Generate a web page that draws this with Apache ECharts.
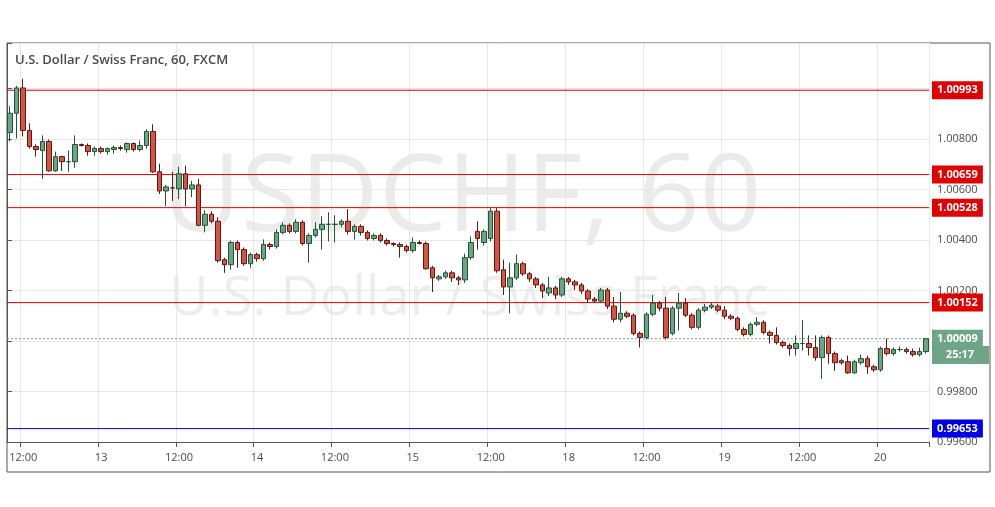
<!DOCTYPE html>
<html>
<head>
<meta charset="utf-8">
<script src="https://cdn.jsdelivr.net/npm/echarts@6/dist/echarts.min.js"></script>
<style>html,body{margin:0;padding:0;background:#fff}#main{width:995px;height:507px}</style>
</head>
<body>
<div id="main"></div>
<script>
// hourly sessions shown: [day, first hour, last hour]
var sessions = [[12, 10, 23], [13, 0, 23], [14, 0, 23], [15, 0, 23], [18, 0, 23], [19, 0, 23], [20, 0, 7]];

var opens = [1.00826,1.00902,1.01002,1.00834,1.00770,1.00754,1.00790,1.00674,1.00730,1.00710,
1.00710,1.00778,1.00774,1.00750,1.00762,1.00750,1.00758,1.00766,1.00758,1.00782,
1.00758,1.00774,1.00830,1.00670,1.00594,1.00606,1.00602,1.00662,1.00602,1.00618,
1.00458,1.00502,1.00474,1.00322,1.00302,1.00390,1.00362,1.00306,1.00342,1.00326,
1.00382,1.00374,1.00430,1.00458,1.00434,1.00470,1.00386,1.00418,1.00442,1.00462,
1.00462,1.00462,1.00474,1.00434,1.00454,1.00430,1.00406,1.00418,1.00398,1.00386,
1.00382,1.00374,1.00358,1.00390,1.00386,1.00290,1.00246,1.00254,1.00270,1.00250,
1.00242,1.00330,1.00434,1.00390,1.00406,1.00514,1.00282,1.00214,1.00250,1.00306,
1.00266,1.00246,1.00222,1.00190,1.00210,1.00182,1.00246,1.00234,1.00222,1.00198,
1.00166,1.00158,1.00202,1.00138,1.00086,1.00110,1.00102,1.00030,1.00014,1.00106,
1.00150,1.00130,1.00030,1.00130,1.00150,1.00102,1.00054,1.00122,1.00134,1.00138,
1.00122,1.00098,1.00090,1.00046,1.00026,1.00066,1.00074,1.00034,1.00022,0.99994,
0.99982,0.99970,0.99990,0.99990,0.99974,0.99934,1.00014,0.99950,0.99922,0.99918,
0.99874,0.99914,0.99930,0.99898,0.99886,0.99970,0.99950,0.99966,0.99966,0.99958,
0.99946,0.99958];
var closes = [1.00902,1.01002,1.00834,1.00770,1.00758,1.00790,1.00674,1.00730,1.00710,1.00710,
1.00778,1.00774,1.00750,1.00762,1.00750,1.00762,1.00766,1.00762,1.00782,1.00758,
1.00774,1.00830,1.00670,1.00594,1.00610,1.00606,1.00662,1.00602,1.00618,1.00458,
1.00502,1.00474,1.00318,1.00302,1.00390,1.00362,1.00306,1.00342,1.00326,1.00382,
1.00374,1.00430,1.00458,1.00434,1.00470,1.00386,1.00418,1.00442,1.00462,1.00462,
1.00462,1.00474,1.00434,1.00454,1.00430,1.00406,1.00418,1.00398,1.00386,1.00382,
1.00374,1.00358,1.00390,1.00386,1.00286,1.00250,1.00254,1.00270,1.00250,1.00242,
1.00330,1.00390,1.00406,1.00434,1.00514,1.00278,1.00214,1.00250,1.00306,1.00266,
1.00246,1.00222,1.00198,1.00210,1.00182,1.00246,1.00234,1.00222,1.00198,1.00166,
1.00158,1.00202,1.00138,1.00086,1.00110,1.00098,1.00030,1.00014,1.00106,1.00150,
1.00130,1.00014,1.00130,1.00150,1.00102,1.00054,1.00122,1.00134,1.00142,1.00122,
1.00098,1.00090,1.00046,1.00026,1.00066,1.00074,1.00034,1.00022,0.99994,0.99982,
0.99970,0.99990,0.99990,0.99974,0.99934,1.00014,0.99950,0.99914,0.99914,0.99874,
0.99918,0.99930,0.99898,0.99886,0.99970,0.99950,0.99966,0.99966,0.99958,0.99946,
0.99958,1.00009];
var lows = [1.00790,1.00802,1.00810,1.00762,1.00730,1.00642,1.00670,1.00670,1.00674,1.00670,
1.00686,1.00770,1.00734,1.00734,1.00742,1.00738,1.00742,1.00754,1.00746,1.00750,
1.00750,1.00762,1.00666,1.00582,1.00534,1.00554,1.00562,1.00534,1.00570,1.00454,
1.00430,1.00466,1.00310,1.00270,1.00282,1.00290,1.00298,1.00290,1.00314,1.00318,
1.00362,1.00366,1.00422,1.00426,1.00426,1.00378,1.00310,1.00410,1.00362,1.00394,
1.00390,1.00450,1.00422,1.00402,1.00418,1.00398,1.00398,1.00390,1.00378,1.00374,
1.00330,1.00350,1.00350,1.00382,1.00282,1.00194,1.00238,1.00246,1.00234,1.00222,
1.00230,1.00322,1.00362,1.00378,1.00394,1.00270,1.00182,1.00110,1.00242,1.00258,
1.00234,1.00210,1.00170,1.00178,1.00166,1.00174,1.00222,1.00202,1.00186,1.00150,
1.00150,1.00150,1.00126,1.00074,1.00074,1.00090,1.00022,0.99974,1.00006,1.00098,
1.00118,1.00006,1.00022,1.00042,1.00094,1.00046,1.00046,1.00114,1.00126,1.00114,
1.00086,1.00082,1.00038,1.00018,1.00018,1.00058,1.00026,0.99990,0.99986,0.99974,
0.99942,0.99942,0.99962,0.99942,0.99922,0.99850,0.99910,0.99882,0.99906,0.99870,
0.99870,0.99906,0.99870,0.99878,0.99878,0.99942,0.99942,0.99958,0.99950,0.99938,
0.99938,0.99950];
var highs = [1.00930,1.01010,1.01038,1.00862,1.00778,1.00814,1.00798,1.00750,1.00734,1.00754,
1.00814,1.00782,1.00782,1.00770,1.00770,1.00766,1.00774,1.00774,1.00786,1.00786,
1.00794,1.00838,1.00858,1.00702,1.00618,1.00670,1.00690,1.00694,1.00634,1.00642,
1.00518,1.00514,1.00490,1.00330,1.00398,1.00398,1.00370,1.00350,1.00350,1.00402,
1.00390,1.00442,1.00470,1.00466,1.00482,1.00478,1.00426,1.00470,1.00494,1.00510,
1.00498,1.00482,1.00522,1.00462,1.00462,1.00438,1.00426,1.00426,1.00406,1.00390,
1.00390,1.00382,1.00410,1.00398,1.00394,1.00298,1.00262,1.00278,1.00278,1.00258,
1.00346,1.00414,1.00474,1.00442,1.00526,1.00526,1.00322,1.00310,1.00342,1.00314,
1.00274,1.00254,1.00230,1.00254,1.00218,1.00254,1.00254,1.00242,1.00230,1.00206,
1.00174,1.00210,1.00210,1.00174,1.00194,1.00118,1.00110,1.00038,1.00114,1.00182,
1.00158,1.00174,1.00138,1.00190,1.00170,1.00110,1.00130,1.00146,1.00150,1.00146,
1.00138,1.00106,1.00098,1.00054,1.00074,1.00094,1.00082,1.00042,1.00054,1.00002,
0.99990,1.00022,1.00082,1.00022,1.00022,1.00022,1.00022,0.99958,0.99930,0.99942,
0.99926,0.99946,0.99942,0.99906,0.99978,1.00010,0.99974,0.99978,0.99974,0.99970,
0.99974,1.00010];

var resistLevels = [1.00993, 1.00659, 1.00528, 1.00152];
var supportLevels = [0.99653];
var lastPrice = 1.00009;
var countdown = '25:17';

var categories = [];
sessions.forEach(function (s) {
    for (var h = s[1]; h <= s[2]; h++) {
        categories.push(h === 0 ? String(s[0]) : (h < 10 ? '0' : '') + h + ':00');
    }
});
var candles = [];
for (var i = 0; i < opens.length; i++) {
    candles.push([opens[i], closes[i], lows[i], highs[i]]);
}

function isTick(index, value) {
    return value.length < 3 || value === '12:00';
}

// level lines drawn on a hidden 0..1 x axis so they span the full plot width
function levelSeries(v, color, dashed) {
    return {
        type: 'line', xAxisIndex: 1, silent: true, symbol: 'none', z: 3,
        data: [[0, v], [1, v]],
        lineStyle: {color: color, width: 1, type: dashed ? [2, 2] : 'solid'},
        endLabel: {
            show: true, distance: 3, formatter: v.toFixed(5),
            color: '#fff', backgroundColor: color, padding: [4, 5, 3, 5],
            fontSize: 11, fontWeight: 'bold', fontFamily: 'Open Sans'
        }
    };
}

var series = [{
    type: 'candlestick',
    data: candles,
    barWidth: 5,
    z: 4,
    itemStyle: {
        color: '#6ba583', borderColor: '#225437',
        color0: '#d75442', borderColor0: '#5b1a13', borderWidth: 1
    }
}];
resistLevels.forEach(function (v) { series.push(levelSeries(v, '#e00000', false)); });
supportLevels.forEach(function (v) { series.push(levelSeries(v, '#0000e6', false)); });
series.push(levelSeries(lastPrice, '#6fa587', true));

var myChart = echarts.init(document.getElementById('main'));
var option = {
    animation: false,
    grid: {left: 7, right: 66, top: 43, bottom: 65},
    graphic: [
        {type: 'rect', z: -10, shape: {x: 7, y: 43, width: 983, height: 429},
            style: {fill: 'none', stroke: '#555', lineWidth: 1}},
        {type: 'text', z: -5, style: {text: 'USDCHF, 60', x: 462, y: 200,
            align: 'center', verticalAlign: 'middle', fill: 'rgba(0,0,0,0.08)',
            font: '108px "Open Sans"'}},
        {type: 'text', z: -5, style: {text: 'U.S. Dollar / Swiss Franc', x: 469, y: 300,
            align: 'center', verticalAlign: 'middle', fill: 'rgba(0,0,0,0.07)',
            font: '54px "Open Sans"'}},
        {type: 'text', z: 10, style: {text: 'U.S. Dollar / Swiss Franc, 60, FXCM', x: 15, y: 54,
            fill: '#4a4a4a', font: '600 13px "Open Sans"'}},
        {type: 'rect', z: 10, shape: {x: 932, y: 346, width: 57, height: 18},
            style: {fill: '#6fa587'}},
        {type: 'text', z: 11, style: {text: countdown, x: 960, y: 355, align: 'center',
            verticalAlign: 'middle', fill: '#fff', font: 'bold 11px "Open Sans"'}}
    ],
    xAxis: [{
        type: 'category',
        data: categories,
        axisLine: {lineStyle: {color: '#555'}},
        axisTick: {show: true, interval: isTick, lineStyle: {color: '#555'}},
        axisLabel: {interval: isTick, color: '#4a4a4a', fontSize: 11, fontFamily: 'Open Sans', margin: 10},
        splitLine: {show: true, interval: isTick, lineStyle: {color: '#e6e6e6'}}
    }, {
        type: 'value', min: 0, max: 1, show: false
    }],
    yAxis: {
        type: 'value',
        position: 'right',
        min: 0.996,
        max: 1.0118,
        interval: 0.002,
        axisLine: {show: true, lineStyle: {color: '#555'}},
        axisTick: {show: true, lineStyle: {color: '#555'}},
        axisLabel: {
            color: '#4a4a4a', fontSize: 11, fontFamily: 'Open Sans',
            formatter: function (v) {
                if (Math.abs(v - 1) < 1e-6 || v > 1.0095) return '';
                return v.toFixed(5);
            }
        },
        splitLine: {lineStyle: {color: '#e6e6e6'}}
    },
    series: series
};
myChart.setOption(option);
</script>
</body>
</html>
